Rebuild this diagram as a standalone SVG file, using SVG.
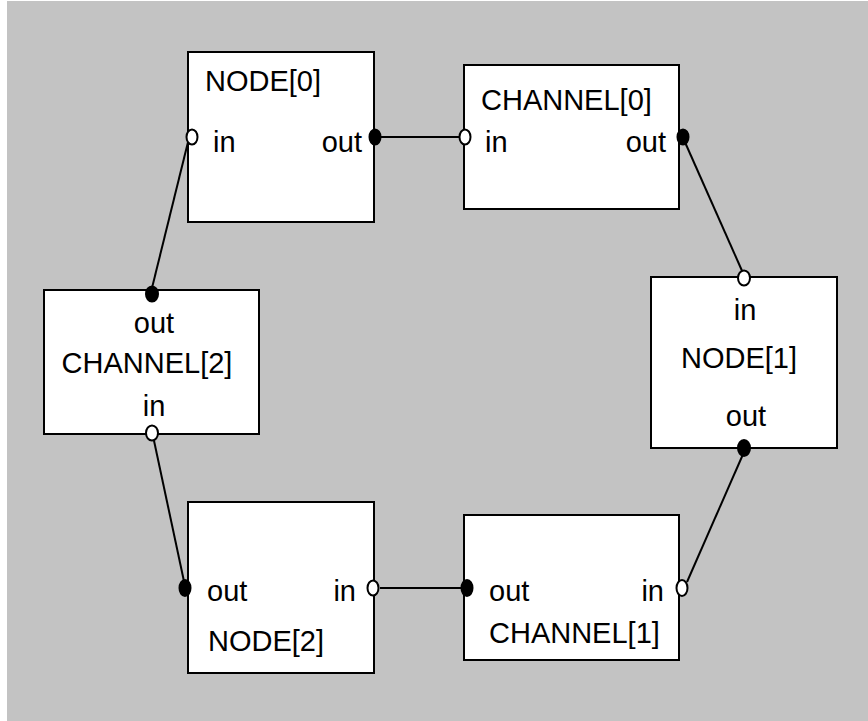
<svg xmlns="http://www.w3.org/2000/svg" width="868" height="721" viewBox="0 0 868 721">
  <style>
    .box { fill: #ffffff; stroke: #000000; stroke-width: 2; }
    .lbl { font-family: "Liberation Sans", Arial, sans-serif; font-size: 29px; fill: #000000; }
    .mid { text-anchor: middle; }
    .end { text-anchor: end; }
    .wire { stroke: #000000; stroke-width: 2; fill: none; }
    .pin { fill: #ffffff; stroke: #000000; stroke-width: 2; }
    .pout { fill: #000000; stroke: #000000; stroke-width: 2; }
  </style>
  <rect x="7" y="1" width="861" height="720" fill="#c3c3c3"/>

  <!-- wiring between ports -->
  <g id="connectors">
    <line class="wire" x1="375" y1="137" x2="459" y2="137"/>
    <line class="wire" x1="684" y1="140" x2="743" y2="273"/>
    <line class="wire" x1="744" y1="452" x2="687" y2="582"/>
    <line class="wire" x1="380" y1="588" x2="463" y2="588"/>
    <line class="wire" x1="189" y1="138" x2="151" y2="292"/>
    <line class="wire" x1="153" y1="436" x2="185" y2="586"/>
  </g>

  <g id="node0">
    <rect class="box" x="188" y="52" width="186" height="170"/>
    <text class="lbl" x="205" y="91">NODE[0]</text>
    <text class="lbl" x="213" y="152">in</text>
    <text class="lbl end" x="362" y="152">out</text>
    <ellipse class="pin" cx="192" cy="137" rx="5.5" ry="7.5"/>
    <ellipse class="pout" cx="375" cy="137" rx="5.5" ry="7.5"/>
  </g>

  <g id="channel0">
    <rect class="box" x="464" y="65" width="215" height="144"/>
    <text class="lbl" x="481" y="110">CHANNEL[0]</text>
    <text class="lbl" x="485" y="152">in</text>
    <text class="lbl end" x="666" y="152">out</text>
    <ellipse class="pin" cx="465" cy="137" rx="5.5" ry="7.5"/>
    <ellipse class="pout" cx="683" cy="137" rx="5.5" ry="7.5"/>
  </g>

  <g id="node1">
    <rect class="box" x="651" y="277" width="186" height="171"/>
    <text class="lbl mid" x="745" y="320">in</text>
    <text class="lbl mid" x="739" y="368">NODE[1]</text>
    <text class="lbl mid" x="746" y="426">out</text>
    <ellipse class="pin" cx="744" cy="278" rx="6" ry="7.5"/>
    <ellipse class="pout" cx="744" cy="448" rx="6" ry="8"/>
  </g>

  <g id="channel1">
    <rect class="box" x="464" y="515" width="215" height="145"/>
    <text class="lbl" x="489" y="601">out</text>
    <text class="lbl end" x="664" y="601">in</text>
    <text class="lbl" x="489" y="643">CHANNEL[1]</text>
    <ellipse class="pout" cx="467" cy="588" rx="5.5" ry="8"/>
    <ellipse class="pin" cx="682" cy="588" rx="5.5" ry="8"/>
  </g>

  <g id="node2">
    <rect class="box" x="188" y="502" width="186" height="171"/>
    <text class="lbl" x="207" y="601">out</text>
    <text class="lbl end" x="356" y="601">in</text>
    <text class="lbl" x="208" y="651">NODE[2]</text>
    <ellipse class="pout" cx="185" cy="588" rx="5.5" ry="8"/>
    <ellipse class="pin" cx="373" cy="588" rx="5.5" ry="7.5"/>
  </g>

  <g id="channel2">
    <rect class="box" x="44" y="290" width="215" height="144"/>
    <text class="lbl mid" x="154" y="333">out</text>
    <text class="lbl mid" x="147" y="373">CHANNEL[2]</text>
    <text class="lbl mid" x="154" y="416">in</text>
    <ellipse class="pout" cx="152" cy="294" rx="6" ry="7.5"/>
    <ellipse class="pin" cx="152" cy="433" rx="6" ry="7.5"/>
  </g>
</svg>
